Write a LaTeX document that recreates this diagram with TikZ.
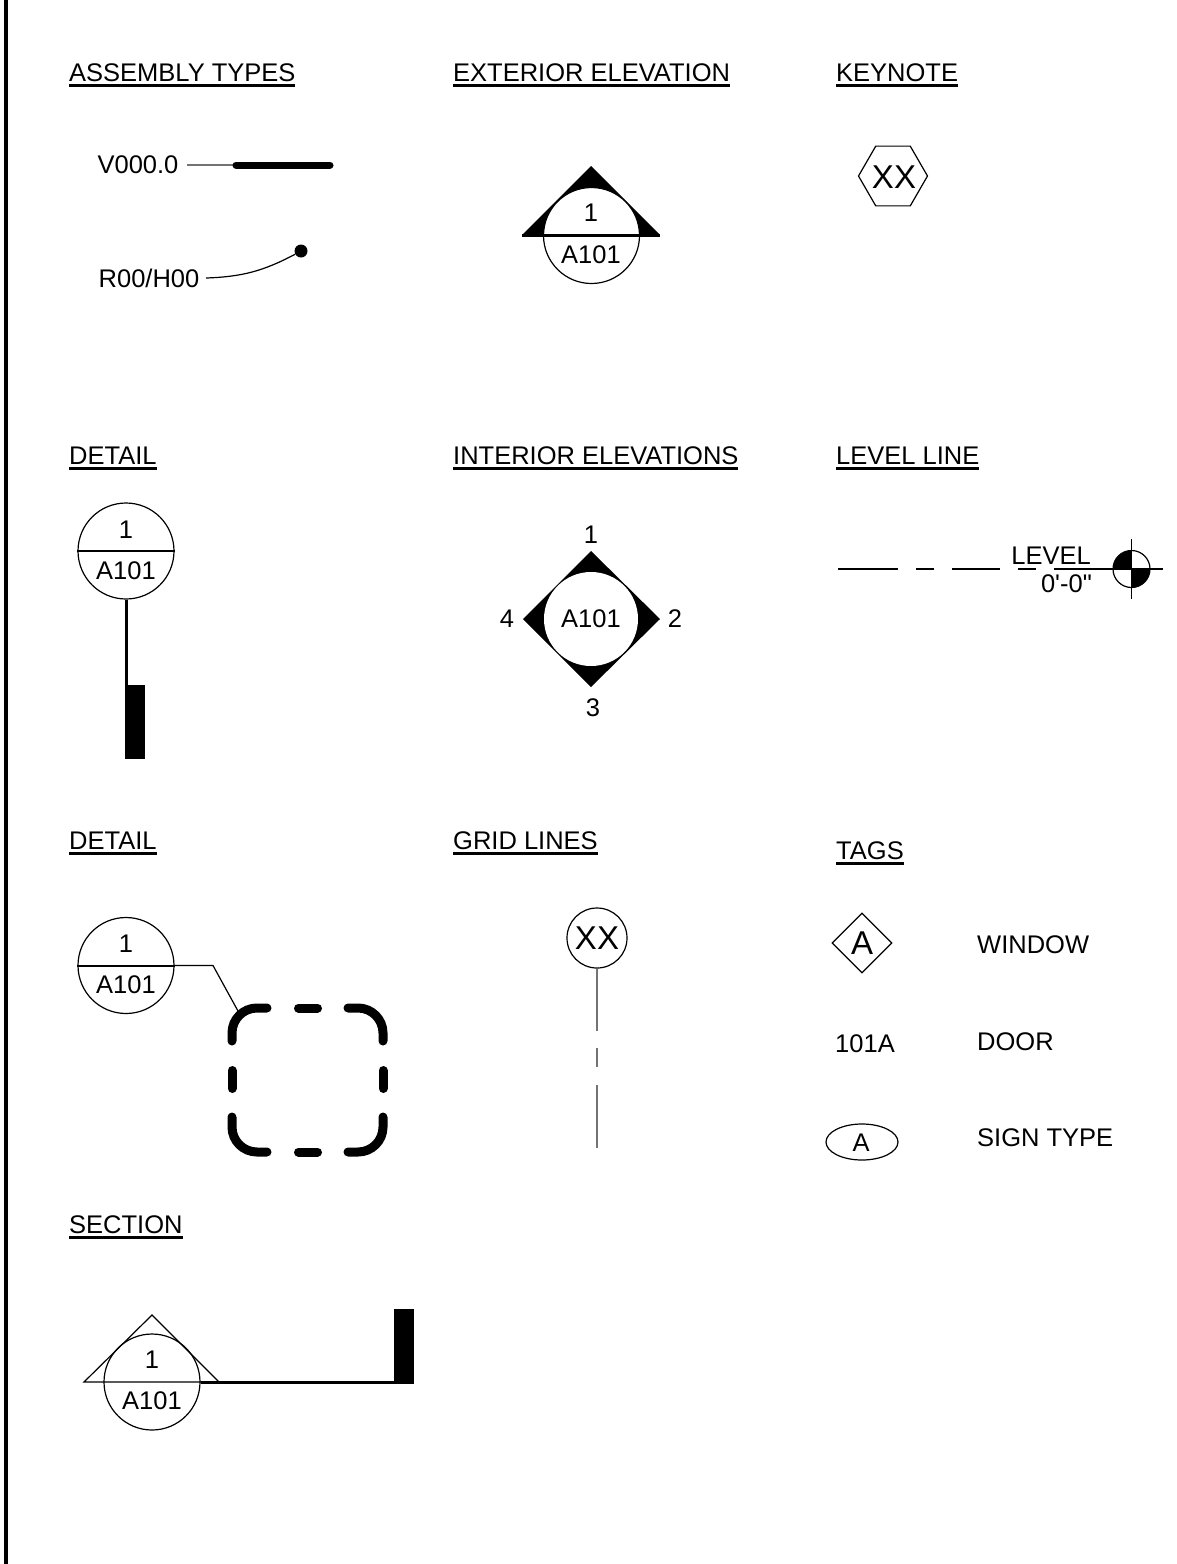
\documentclass[tikz,border=0pt]{standalone}
\usepackage{fontspec}
\setmainfont{Liberation Sans}
\newfontfamily\plainfont{Liberation Sans}
\usetikzlibrary{shapes.geometric, positioning}
\newcommand{\headrule}[1]{\setbox0\hbox{#1}\rlap{\rule[-6pt]{\wd0}{3pt}}\box0}

\begin{document}
\begin{tikzpicture}[
    x=1pt, y=-1pt,
    heading/.style={anchor=base west, inner sep=0pt, font=\fontsize{25.5}{30}\selectfont},
    label/.style={inner sep=0pt, font=\fontsize{25.5}{30}\selectfont},
    biglabel/.style={inner sep=0pt, font=\fontsize{33}{38}\selectfont},
    bubble/.style={circle, draw, line width=1.2pt, fill=white, minimum size=96pt, inner sep=0pt},
    thin line/.style={line width=1.2pt},
    gray line/.style={line width=1.4pt, black!55},
    mid line/.style={line width=3pt},
    heavy line/.style={line width=9pt, line cap=round, rounded corners=25pt}
]
    \useasboundingbox (0,0) rectangle (1177,1564);
    \draw[line width=4pt] (5.5,0) -- (5.5,1564);

    % Headings
    \node[heading] (assembly) at (69,81) {\headrule{ASSEMBLY TYPES}};
    \node[heading] (exterior) at (453,81) {\headrule{EXTERIOR ELEVATION}};
    \node[heading] (keynote) at (836,81) {\headrule{KEYNOTE}};
    \node[heading] (detailA) at (69,464) {\headrule{DETAIL}};
    \node[heading] (interior) at (453,464) {\headrule{INTERIOR ELEVATIONS}};
    \node[heading] (levelline) at (836,464) {\headrule{LEVEL LINE}};
    \node[heading] (detailB) at (69,849) {\headrule{DETAIL}};
    \node[heading] (grid) at (453,849) {\headrule{GRID LINES}};
    \node[heading] (tags) at (836,859) {\headrule{TAGS}};
    \node[heading] (section) at (69,1233) {\headrule{SECTION}};

    % Assembly types
    \node[label] (wall) at (138,165) {V000.0};
    \coordinate (wallA) at (187,165);
    \coordinate (wallB) at (236,165);
    \coordinate (wallC) at (330,165);
    \draw[gray line] (wallA) -- (wallB);
    \draw[line width=7pt, line cap=round] (wallB) -- (wallC);
    \node[label] (roof) at (149,278) {R00/H00};
    \node[circle, fill, minimum size=13pt, inner sep=0pt] (roofdot) at (301,251) {};
    \coordinate (roofA) at (206,278);
    \draw[thin line] (roofA) to[bend right=13] (roofdot);

    % Exterior elevation
    \coordinate (extL) at (522,235);
    \coordinate (extT) at (591,166);
    \coordinate (extR) at (660,235);
    \fill (extL) -- (extT) -- (extR) -- cycle;
    \node[bubble] (extC) at (591.5,235.5) {};
    \draw[mid line] (extL) -- (extR);
    \node[label] (ext1) at (591,213) {1};
    \node[label] (ext2) at (591,255) {A101};

    % Keynote
    \node[regular polygon, regular polygon sides=6, draw, line width=1.2pt, minimum size=69pt, inner sep=0pt] (key) at (893,176) {};
    \node[biglabel] (keytxt) at (894,177) {XX};

    % Detail with marker
    \node[bubble] (detC) at (126,551) {};
    \draw[thin line] (detC.west) -- (detC.east);
    \node[label] (det1) at (126,530) {1};
    \node[label] (det2) at (126,571) {A101};
    \node[fill, minimum width=20pt, minimum height=74pt, inner sep=0pt] (detM) at (135,722) {};
    \draw[mid line] (detC.south) -- (detC.south |- detM.south);

    % Interior elevations
    \coordinate (intT) at (591,551);
    \coordinate (intR) at (660,619);
    \coordinate (intB) at (591,687);
    \coordinate (intL) at (523,619);
    \fill (intT) -- (intR) -- (intB) -- (intL) -- cycle;
    \node[circle, fill=white, minimum size=94pt, inner sep=0pt, label] (intC) at (591,619) {A101};
    \node[label] (int1) at (591,535) {1};
    \node[label] (int2) at (675,619) {2};
    \node[label] (int3) at (593,708) {3};
    \node[label] (int4) at (507,619) {4};

    % Level line
    \coordinate (levC) at (1131.5,569);
    \foreach \xa/\xb in {838/898, 916/934, 952/1000, 1018/1036, 1054/1163}
        \draw[thin line] (\xa,569) -- (\xb,569);
    \fill (levC) -- ++(-18.5,0) arc[start angle=180, end angle=270, radius=18.5] -- cycle;
    \fill (levC) -- ++(18.5,0) arc[start angle=0, end angle=90, radius=18.5] -- cycle;
    \node[circle, draw, line width=1.2pt, minimum size=37pt, inner sep=0pt] (levO) at (levC) {};
    \draw[thin line] (1131.5,539) -- (1131.5,599);
    \node[label, anchor=base east] (level) at (1091,564) {LEVEL};
    \node[label, anchor=base east] (levelval) at (1092,592) {\plainfont 0'-0"};

    % Detail with dashed outline
    \node[bubble] (calC) at (126,965.5) {};
    \draw[line width=2pt] (calC.west) -- (calC.east);
    \node[label] (cal1) at (126,944) {1};
    \node[label] (cal2) at (126,985) {A101};
    \coordinate (calA) at (213,965.5);
    \coordinate (calB) at (238,1011);
    \draw[thin line] (calC.east) -- (calA) -- (calB);
    \draw[heavy line] (267,1008) -- (232,1008) -- (232,1041);
    \draw[heavy line] (348,1008) -- (383,1008) -- (383,1041);
    \draw[heavy line] (267,1152) -- (232,1152) -- (232,1117);
    \draw[heavy line] (348,1152) -- (383,1152) -- (383,1117);
    \foreach \ya in {1008, 1152}
        \draw[heavy line] (298.5,\ya) -- (317.5,\ya);
    \foreach \xa in {232, 383}
        \draw[heavy line] (\xa,1070.5) -- (\xa,1088.5);

    % Grid lines
    \node[circle, draw, line width=1.2pt, minimum size=60pt, inner sep=0pt, biglabel] (gridC) at (597,938) {XX};
    \coordinate (gridA) at (597,1031);
    \coordinate (gridB) at (597,1048);
    \coordinate (gridD) at (597,1067);
    \coordinate (gridE) at (597,1085);
    \coordinate (gridF) at (597,1148);
    \draw[gray line] (gridC.south) -- (gridA);
    \draw[gray line] (gridB) -- (gridD);
    \draw[gray line] (gridE) -- (gridF);

    % Tags
    \node[diamond, draw, line width=1.2pt, minimum size=60pt, inner sep=0pt, biglabel] (window) at (862,943) {A};
    \node[label, anchor=west] (windowtxt) at (977,945) {WINDOW};
    \node[label] (door) at (865,1044) {101A};
    \node[label, anchor=west] (doortxt) at (977,1042) {DOOR};
    \node[ellipse, draw, line width=1.2pt, minimum width=72pt, minimum height=36pt, inner sep=0pt] (sign) at (862,1142) {};
    \node[label] (signA) at (861,1143) {A};
    \node[label, anchor=west] (signtxt) at (977,1138) {SIGN TYPE};

    % Section
    \coordinate (secL) at (84,1382);
    \coordinate (secT) at (152,1315);
    \coordinate (secR) at (219,1382);
    \node[circle, draw, line width=1.2pt, minimum size=96pt, inner sep=0pt] (secC) at (152,1382) {};
    \draw[thin line] (secL) -- (secT) -- (secR) -- cycle;
    \node[label] (sec1) at (152,1360) {1};
    \node[label] (sec2) at (152,1401) {A101};
    \node[fill, minimum width=20pt, minimum height=75pt, inner sep=0pt] (secM) at (404,1346.5) {};
    \draw[mid line] (secC.east) -- (secM.west |- secC.east);
\end{tikzpicture}
\end{document}
